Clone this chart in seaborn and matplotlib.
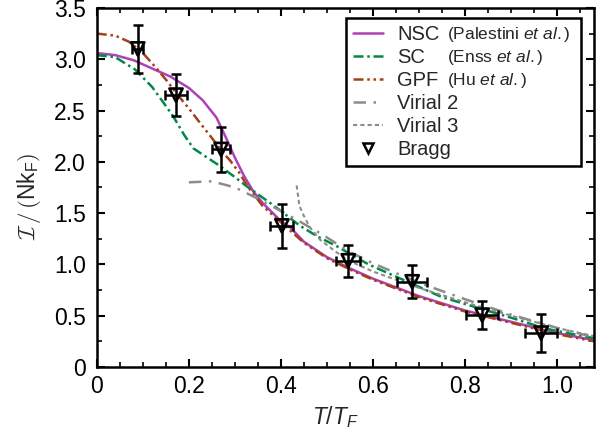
"""
Moment of inertia vs T/T_F: theory curves and Bragg data
"""
import matplotlib
matplotlib.use('Agg')
import numpy as np
import pandas as pd
import matplotlib.pyplot as plt
from matplotlib.lines import Line2D
from matplotlib.ticker import MultipleLocator, FuncFormatter
import seaborn as sns

# NSC (Palestini et al.)
nsc_t = [0.00, 0.04, 0.08, 0.12, 0.16, 0.20, 0.23, 0.26, 0.28, 0.30, 0.32, 0.34, 0.36,
         0.40, 0.42, 0.45, 0.50, 0.55, 0.60, 0.70, 0.80, 0.90, 1.00, 1.08]
nsc_i = [3.06, 3.04, 2.99, 2.91, 2.83, 2.72, 2.60, 2.43, 2.24, 2.04, 1.86, 1.71, 1.60,
         1.42, 1.36, 1.22, 1.07, 0.96, 0.86, 0.69, 0.55, 0.44, 0.33, 0.26]

# SC (Enss et al.)
sc_t = [0.00, 0.04, 0.083, 0.12, 0.133, 0.165, 0.19, 0.21, 0.24, 0.267, 0.30, 0.326,
        0.376, 0.40, 0.44, 0.48, 0.52, 0.59, 0.66, 0.75, 0.84, 0.90, 0.97, 1.00, 1.08]
sc_i = [3.04, 3.02, 2.90, 2.73, 2.65, 2.45, 2.26, 2.13, 2.04, 1.96, 1.85, 1.76,
        1.60, 1.52, 1.38, 1.27, 1.18, 1.00, 0.86, 0.68, 0.56, 0.48, 0.38, 0.35, 0.28]

# GPF (Hu et al.)
gpf_t = [0.00, 0.04, 0.07, 0.10, 0.126, 0.154, 0.174, 0.20, 0.224, 0.252, 0.274, 0.29,
         0.31, 0.326, 0.36, 0.40, 0.45, 0.50, 0.55, 0.60, 0.70, 0.80, 0.90, 1.00, 1.08]
gpf_i = [3.25, 3.23, 3.17, 3.06, 2.93, 2.78, 2.66, 2.52, 2.38, 2.22, 2.09, 2.01,
         1.89, 1.77, 1.57, 1.41, 1.21, 1.06, 0.95, 0.85, 0.68, 0.54, 0.43, 0.32, 0.25]

# Virial 2
vir2_t = [0.20, 0.25, 0.30, 0.35, 0.40, 0.44, 0.49, 0.55, 0.60, 0.70, 0.80, 0.90, 1.00, 1.08]
vir2_i = [1.80, 1.81, 1.75, 1.64, 1.52, 1.42, 1.29, 1.12, 1.01, 0.82, 0.66, 0.51, 0.38, 0.29]

# Virial 3
vir3_t = [0.434, 0.44, 0.45, 0.463, 0.485, 0.52, 0.55, 0.60, 0.70, 0.80, 0.90, 1.00, 1.08]
vir3_i = [1.77, 1.57, 1.47, 1.36, 1.24, 1.12, 1.03, 0.93, 0.77, 0.63, 0.50, 0.38, 0.30]

# Bragg data
bragg_t = [0.089, 0.172, 0.270, 0.402, 0.546, 0.685, 0.837, 0.965]
bragg_i = [3.10, 2.65, 2.12, 1.375, 1.035, 0.83, 0.505, 0.33]
bragg_terr = [0.012, 0.024, 0.020, 0.025, 0.026, 0.032, 0.035, 0.035]
bragg_ierr = [0.23, 0.205, 0.22, 0.215, 0.155, 0.16, 0.135, 0.185]

ref_labels = ['(Palestini $\\mathit{et\\ al.}$)',
              '(Enss $\\mathit{et\\ al.}$)',
              '(Hu $\\mathit{et\\ al.}$)']

sns.set_style('ticks')
plt.rcParams['font.family'] = ['Liberation Sans', 'DejaVu Sans']
plt.rcParams['mathtext.fontset'] = 'custom'
plt.rcParams['mathtext.rm'] = 'Liberation Sans'
plt.rcParams['mathtext.it'] = 'Liberation Sans:italic'
plt.rcParams['mathtext.bf'] = 'Liberation Sans:bold'

fig, ax = plt.subplots(figsize=(6.05, 4.4), dpi=100)
fig.subplots_adjust(left=0.160, right=0.982, bottom=0.166, top=0.982)

curves = [
    (nsc_t, nsc_i, 'NSC', '#b040b8', '-', 1.8),
    (sc_t, sc_i, 'SC', '#008a45', (0, (4, 1.5, 1, 1.5)), 1.8),
    (gpf_t, gpf_i, 'GPF', '#a5401b', (0, (4, 1.5, 1, 1.5, 1, 1.5)), 1.8),
    (vir2_t, vir2_i, 'Virial 2', '#8c8c8c', (0, (5, 3, 1, 3)), 1.8),
    (vir3_t, vir3_i, 'Virial 3', '#8c8c8c', (0, (2, 1.5)), 1.5),
]
for t, v, name, color, ls, lw in curves:
    df = pd.DataFrame({'T': t, 'I': v})
    sns.lineplot(data=df, x='T', y='I', ax=ax, color=color, linestyle=ls,
                 linewidth=lw, label=name, estimator=None, sort=False, legend=False)

ax.errorbar(bragg_t, bragg_i, xerr=bragg_terr, yerr=bragg_ierr, fmt='none',
            ecolor='black', elinewidth=1.8, capsize=3.5, capthick=1.8, zorder=5)
sns.scatterplot(x=bragg_t, y=bragg_i, ax=ax, marker='v', s=90, facecolor='none',
                edgecolor='black', linewidth=1.9, zorder=6, legend=False)

ax.set_xlim(0, 1.08)
ax.set_ylim(0, 3.5)
ax.xaxis.set_major_locator(MultipleLocator(0.2))
ax.xaxis.set_minor_locator(MultipleLocator(0.05))
ax.yaxis.set_major_locator(MultipleLocator(0.5))
ax.yaxis.set_minor_locator(MultipleLocator(0.25))
fmt = FuncFormatter(lambda v, p: '0' if abs(v) < 1e-9 else f'{v:.1f}')
ax.xaxis.set_major_formatter(fmt)
ax.yaxis.set_major_formatter(fmt)
ax.tick_params(which='both', direction='in', top=True, right=True, colors='black')
ax.tick_params(which='major', length=6, width=1.5, labelsize=16.5)
ax.tick_params(axis='x', which='major', pad=6)
ax.tick_params(axis='y', which='major', pad=8)
ax.tick_params(which='minor', length=3.5, width=1.2)
for s in ax.spines.values():
    s.set_linewidth(1.8)
    s.set_color('black')

ax.set_xlabel(r'$T/T_F$', fontsize=16.5)
ax.xaxis.set_label_coords(0.479, -0.104)
ax.set_ylabel(r'$\mathcal{I}\,/\,(\mathregular{Nk_F})$', fontsize=16.5, math_fontfamily='cm')
ax.yaxis.set_label_coords(-0.108, 0.474)

handles, labels = ax.get_legend_handles_labels()
handles.append(Line2D([], [], marker='v', ls='none', mfc='none', mec='black', mew=1.8, ms=7))
labels.append('Bragg')
leg = ax.legend(handles, labels, loc='upper left', bbox_to_anchor=(0.501, 0.543, 0.473, 0.429),
                mode='expand', borderaxespad=0, fontsize=14.5, frameon=True, fancybox=False,
                edgecolor='black', handlelength=1.5, handletextpad=0.7, labelspacing=0.2,
                borderpad=0.35, framealpha=1)
leg.get_frame().set_linewidth(1.8)

# smaller reference text next to the first three legend labels
fig.canvas.draw()
renderer = fig.canvas.get_renderer()
fw, fh = fig.canvas.get_width_height()
for txt, ref in zip(leg.get_texts()[:3], ref_labels):
    bb = txt.get_window_extent(renderer)
    fig.text(447 / fw, (bb.y0 + bb.y1) / 2 / fh, ref, fontsize=12.5, va='center', ha='left')

fig.savefig('out.png', dpi=100)
